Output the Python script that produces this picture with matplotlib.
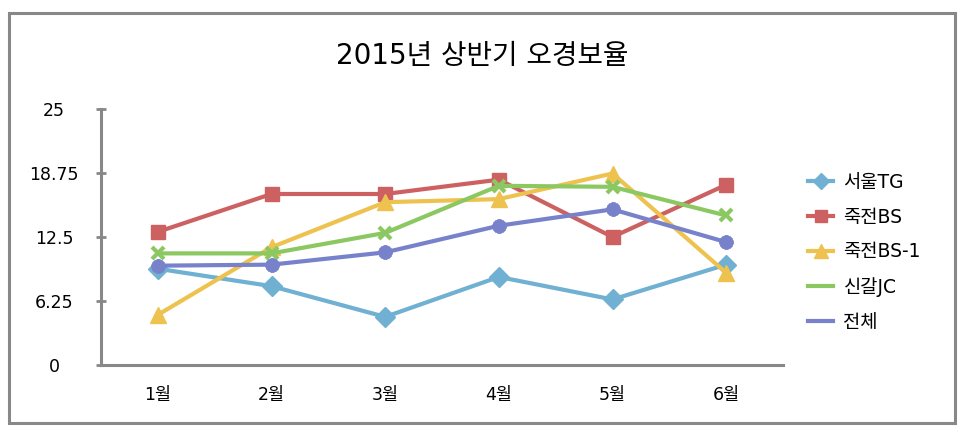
import matplotlib
matplotlib.use("Agg")
import matplotlib.pyplot as plt
from matplotlib.lines import Line2D
from matplotlib.patches import Rectangle

FAM = ['DejaVu Sans', 'Noto Sans CJK KR']
plt.rcParams['font.family'] = FAM

months = ['1월', '2월', '3월', '4월', '5월', '6월']
series_names = ['서울TG', '죽전BS', '죽전BS-1', '신갈JC', '전체']
seoul_tg = [9.4, 7.7, 4.7, 8.6, 6.4, 9.8]
jukjeon_bs = [13.0, 16.7, 16.7, 18.1, 12.5, 17.6]
jukjeon_bs1 = [4.9, 11.5, 15.9, 16.2, 18.7, 9.0]
singal_jc = [10.9, 10.9, 12.9, 17.5, 17.4, 14.6]
total = [9.7, 9.8, 11.0, 13.6, 15.2, 12.0]
yticks = [0, 6.25, 12.5, 18.75, 25]
ytick_labels = ['0', '6.25', '12.5', '18.75', '25']
title = '2015년 상반기 오경보율'

colors = ['#70B0D2', '#CD6060', '#EEC24E', '#8CC862', '#7782CA']
markers = ['D', 's', '^', 'x', (8, 2, 0)]
msizes = [10, 10, 12, 8, 10]
data = [seoul_tg, jukjeon_bs, jukjeon_bs1, singal_jc, total]

W, H = 969, 438
fig = plt.figure(figsize=(W / 100, H / 100), dpi=100)
ax = fig.add_axes([101 / W, 1 - 365 / H, (783 - 101) / W, (365 - 109) / H])

x = list(range(len(months)))
for vals, c, m, ms in zip(data, colors, markers, msizes):
    mew = 3 if (m == 'x' or isinstance(m, tuple)) else 1
    ax.plot(x, vals, color=c, lw=3, marker=m, ms=ms, mfc=c, mec=c, mew=mew,
            solid_capstyle='round', clip_on=False)

ax.set_xlim(-0.5, len(months) - 0.5)
ax.set_ylim(0, 25)
ax.set_yticks(yticks)
ax.set_yticklabels(ytick_labels, fontsize=12.5, ha='center')
ax.set_xticks(x)
ax.set_xticklabels(months, fontsize=12.5)
for lbl in ax.get_yticklabels():
    lbl.set_x(-42 / (783 - 101))
ax.tick_params(axis='y', length=7, width=2, color='#888888', direction='inout', pad=0)
ax.tick_params(axis='x', length=0, pad=15)
for s in ['top', 'right']:
    ax.spines[s].set_visible(False)
for s in ['left', 'bottom']:
    ax.spines[s].set_color('#888888')
    ax.spines[s].set_linewidth(2.2)

fig.text(482 / W, 1 - 56 / H, title, ha='center', va='center', fontsize=20)

# outer frame
fig.patches.append(Rectangle((9 / W, 1 - 423 / H), (955 - 9) / W, (423 - 13) / H,
                             transform=fig.transFigure, fill=False,
                             edgecolor='#888888', lw=2.2))

handles = []
for i, (name, c) in enumerate(zip(series_names, colors)):
    if i < 3:
        h = Line2D([0], [0], color=c, lw=3, marker=markers[i], ms=msizes[i] - 2, mfc=c, mec=c)
    else:
        h = Line2D([0], [0], color=c, lw=3)
    handles.append(h)
leg = fig.legend(handles, series_names, loc='upper left',
                 bbox_to_anchor=(791 / W, 1 - 156 / H), frameon=False,
                 prop={'family': FAM, 'size': 13.5},
                 handlelength=1.35, labelspacing=0.84, handletextpad=0.55)

fig.savefig('out.png', dpi=100)
